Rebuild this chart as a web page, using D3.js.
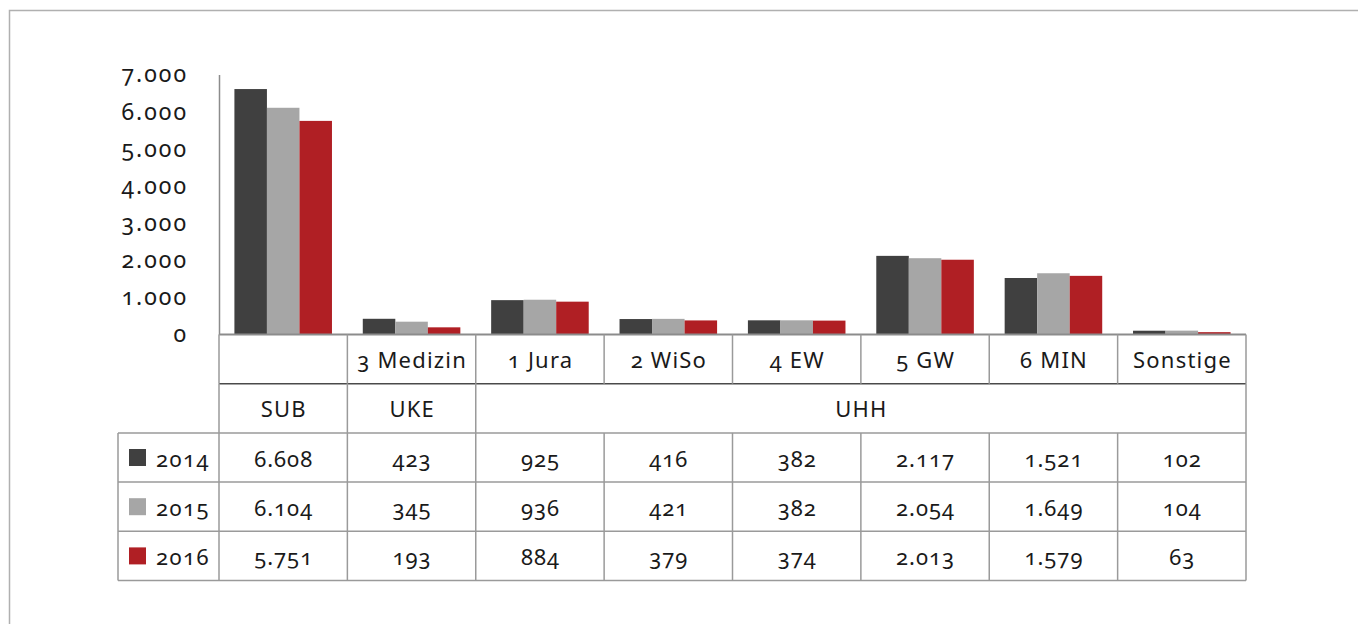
<!DOCTYPE html>
<html><head><meta charset="utf-8">
<script src="https://cdn.jsdelivr.net/npm/d3@7"></script>
<style>
html,body{margin:0;padding:0;background:#fff;overflow:hidden}
svg text{font-family:"Noto Sans",sans-serif;font-variant-numeric:oldstyle-nums;fill:#1a1a1a}
</style></head><body>
<svg id="c" width="1358" height="624"></svg>
<script>
const categories = ["SUB","3 Medizin","1 Jura","2 WiSo","4 EW","5 GW","6 MIN","Sonstige"];
const subLabels = ["","3 Medizin","1 Jura","2 WiSo","4 EW","5 GW","6 MIN","Sonstige"];
const groups = [{name:"SUB",span:1},{name:"UKE",span:1},{name:"UHH",span:6}];
const years = ["2014","2015","2016"];
const v2014 = [6608,423,925,416,382,2117,1521,102];
const v2015 = [6104,345,936,421,382,2054,1649,104];
const v2016 = [5751,193,884,379,374,2013,1579,63];
const yTicks = [0,1000,2000,3000,4000,5000,6000,7000];
const colors = ["#404040","#a6a6a6","#b01f24"];
const series = [v2014,v2015,v2016];

const loc = d3.formatLocale({decimal:",",thousands:".",grouping:[3],currency:["","€"]});
const fmt = loc.format(",d");

const svg = d3.select("#c");
svg.append("rect").attr("x",9.5).attr("y",10.5).attr("width",1500).attr("height",800)
  .attr("fill","none").attr("stroke","#b0b0b0").attr("stroke-width",1.5);

const pLeft=219, pRight=1246, pTop=74.5, pBase=334.5;
const x0 = d3.scaleBand().domain(categories).range([pLeft,pRight]).padding(0);
const bw = x0.bandwidth();
const pad = bw*0.12;
const x1 = d3.scaleBand().domain(years).range([pad,bw-pad]).padding(0);
const y = d3.scaleLinear().domain([0,7000]).range([pBase,pTop]);

// bars
years.forEach((yr,i)=>{
  svg.append("g").selectAll("rect").data(series[i]).join("rect")
    .attr("x",(d,j)=>x0(categories[j])+x1(yr))
    .attr("width",x1.bandwidth())
    .attr("y",d=>y(d))
    .attr("height",d=>pBase-y(d))
    .attr("fill",colors[i]);
});

// y axis
const yAxis = d3.axisLeft(y).tickValues(yTicks).tickFormat(fmt).tickSize(0).tickPadding(31);
const ga = svg.append("g").attr("transform",`translate(${pLeft},0)`).call(yAxis);
ga.select(".domain").attr("stroke","#8c8c8c").attr("stroke-width",1.5);
ga.selectAll("text").attr("font-size",23).attr("font-family","Noto Sans")
  .style("letter-spacing","2px").style("fill","#1a1a1a");

// table
const rowH = 49.2;
const rows = [pBase, pBase+rowH, pBase+2*rowH, pBase+3*rowH, pBase+4*rowH, pBase+5*rowH];
const tleft = 118;
const lineC = "#9a9a9a";
const tg = svg.append("g");
function hline(a,b,yy,c,w){tg.append("line").attr("x1",a).attr("x2",b).attr("y1",yy).attr("y2",yy).attr("stroke",c||lineC).attr("stroke-width",w||1.5);}
function vline(xx,a,b){tg.append("line").attr("x1",xx).attr("x2",xx).attr("y1",a).attr("y2",b).attr("stroke",lineC).attr("stroke-width",1.5);}

hline(pLeft,pRight,rows[0],"#8c8c8c",2);
hline(pLeft,pRight,rows[1],"#4a4a4a",1.5);
hline(tleft,pRight,rows[2]);
hline(tleft,pRight,rows[3]);
hline(tleft,pRight,rows[4]);
hline(tleft,pRight,rows[5]);
vline(tleft,rows[2],rows[5]);
const edges = categories.map(c=>x0(c)).concat([pRight]);
edges.forEach((e,i)=>{
  vline(e,rows[0],rows[1]);
  if(i===0||i===1||i===2||i===8) vline(e,rows[1],rows[2]);
  vline(e,rows[2],rows[5]);
});

const fs = 22;
subLabels.forEach((s,j)=>{
  tg.append("text").attr("x",x0(categories[j])+bw/2+0.6).attr("y",(rows[0]+rows[1])/2)
    .attr("text-anchor","middle").attr("dominant-baseline","central").attr("font-size",fs)
    .style("letter-spacing","1.2px").text(s);
});
let gi=0;
groups.forEach(g=>{
  const xs = x0(categories[gi]), xe = xs + g.span*bw;
  tg.append("text").attr("x",(xs+xe)/2+0.6).attr("y",(rows[1]+rows[2])/2)
    .attr("text-anchor","middle").attr("dominant-baseline","central").attr("font-size",fs)
    .style("letter-spacing","1.2px").text(g.name);
  gi+=g.span;
});
years.forEach((yr,i)=>{
  const cy = (rows[2+i]+rows[3+i])/2;
  tg.append("rect").attr("x",129).attr("y",cy-8.5).attr("width",17).attr("height",17).attr("fill",colors[i]);
  tg.append("text").attr("x",156).attr("y",cy).attr("dominant-baseline","central").attr("font-size",fs)
    .style("letter-spacing","1.5px").text(yr);
  series[i].forEach((v,j)=>{
    tg.append("text").attr("x",x0(categories[j])+bw/2+0.5).attr("y",cy)
      .attr("text-anchor","middle").attr("dominant-baseline","central").attr("font-size",fs)
      .style("letter-spacing","1px").text(fmt(v));
  });
});
</script></body></html>
